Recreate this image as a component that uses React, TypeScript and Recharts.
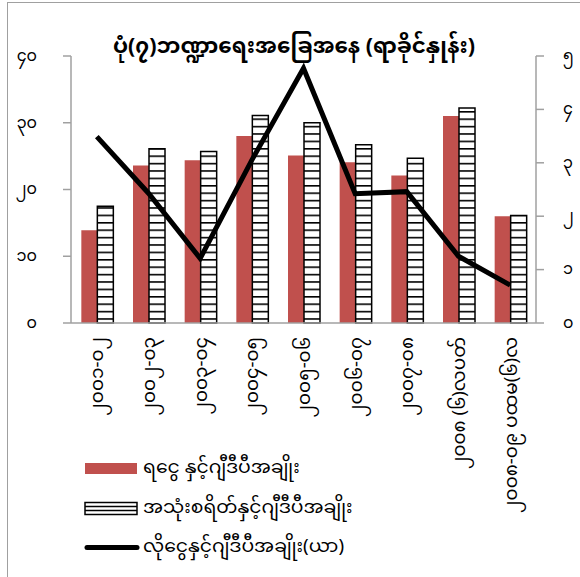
import { ComposedChart, Bar, Line, XAxis, YAxis, Legend } from "recharts"

const FONT = "'Noto Sans Myanmar', 'Noto Sans', sans-serif"

// fiscal years on the category axis
const categories = [
    '၂၀၀၁-၀၂',
    '၂၀၀၂-၀၃',
    '၂၀၀၃-၀၄',
    '၂၀၀၄-၀၅',
    '၂၀၀၅-၀၆',
    '၂၀၀၆-၀၇',
    '၂၀၀၇-၀၈',
    '၂၀၀၈ (၆)လပတ်',
    '၂၀၀၈-၀၉ ပထမ(၆)လ',
]
const revenue = [13.9, 23.6, 24.4, 28.0, 25.1, 24.1, 22.1, 31.0, 16.0]
const expenditure = [17.5, 26.1, 25.7, 31.1, 30.0, 26.7, 24.7, 32.2, 16.1]
const deficit = [3.49, 2.43, 1.21, 3.05, 4.77, 2.42, 2.46, 1.25, 0.71]

const leftTicks = [0, 10, 20, 30, 40]
const leftTickLabels = ['၀', '၁၀', '၂၀', '၃၀', '၄၀']
const rightTicks = [0, 1, 2, 3, 4, 5]
const rightTickLabels = ['၀', '၁', '၂', '၃', '၄', '၅']
const edgeTicks = [0, 1, 2, 3, 4, 5, 6, 7, 8, 9]

const seriesNames = [
    'ရငွေ နှင့်ဂျီဒီပီအချိုး',
    'အသုံးစရိတ်နှင့်ဂျီဒီပီအချိုး',
    'လိုငွေနှင့်ဂျီဒီပီအချိုး(ယာ)',
]
const title = 'ပုံ(၇)ဘဏ္ဍာရေးအခြေအနေ (ရာခိုင်နှုန်း)'

const AXIS = '#a0a0a0'

const XTick = (props: any) => {
    const { x, y, payload } = props
    const ty = y + 14
    return (
        <text x={x} y={ty} transform={`rotate(-90 ${x} ${ty})`} textAnchor="end" dy="0.35em"
            fontSize={18.5} fill="#000" fontFamily={FONT}>
            {payload.value}
        </text>
    )
}

const LeftTick = (props: any) => {
    const { x, y, payload } = props
    const i = leftTicks.indexOf(payload.value)
    return (
        <text x={x} y={y} dy="0.3em" textAnchor="end" fontSize={16} fill="#000" fontFamily={FONT}>
            {leftTickLabels[i]}
        </text>
    )
}

const RightTick = (props: any) => {
    const { x, y, payload } = props
    const i = rightTicks.indexOf(payload.value)
    return (
        <text x={x} y={y} dy="0.3em" textAnchor="start" fontSize={16} fill="#000" fontFamily={FONT}>
            {rightTickLabels[i]}
        </text>
    )
}

const swatch = (i: number) => {
    if (i === 0) return <rect x={1} y={2} width={52} height={11} fill="#C0504D" />
    if (i === 1) return (
        <g>
            <rect x={1} y={1.5} width={52} height={12} fill="#fff" stroke="#000" strokeWidth={1.5} />
            <line x1={1} x2={53} y1={5.5} y2={5.5} stroke="#000" strokeWidth={1.5} />
            <line x1={1} x2={53} y1={9.5} y2={9.5} stroke="#000" strokeWidth={1.5} />
        </g>
    )
    return <line x1={3} x2={53} y1={7.5} y2={7.5} stroke="#000" strokeWidth={5} strokeLinecap="round" />
}

const LegendContent = () => (
    <div style={{ fontFamily: FONT }}>
        {seriesNames.map((n, i) => (
            <div key={n} style={{ display: 'flex', alignItems: 'center', height: 39.5 }}>
                <svg width={56} height={15} style={{ marginRight: 3 }}>{swatch(i)}</svg>
                <span style={{ fontSize: 18.8, color: '#000', whiteSpace: 'nowrap' }}>{n}</span>
            </div>
        ))}
    </div>
)

export default function App() {
    const data = categories.map((c, i) => ({
        name: c,
        revenue: revenue[i],
        expenditure: expenditure[i],
        deficit: deficit[i],
    }))

    return (
        <div style={{ position: 'absolute', left: 0, top: 0, width: 580, height: 577, background: '#fff', overflow: 'hidden', fontFamily: FONT }}>
            <div style={{ position: 'absolute', left: 7, top: 2, width: 640, height: 640, border: `1.5px solid ${AXIS}` }} />
            <div style={{ position: 'absolute', left: 8, top: 25, width: 572, textAlign: 'center', fontSize: 21.5, fontWeight: 'bold', color: '#000', whiteSpace: 'nowrap' }}>
                {title}
            </div>
            <div style={{ position: 'absolute', left: 0, top: 0 }}>
                <ComposedChart width={580} height={577} data={data}
                    margin={{ top: 56, right: 0, bottom: 0, left: 8 }}
                    barCategoryGap="20%" barGap={0}>
                    <defs>
                        <pattern id="hatch" patternUnits="userSpaceOnUse" width={6} height={7.4}>
                            <rect width={6} height={7.4} fill="#fff" />
                            <rect width={6} height={1.6} fill="#000" />
                        </pattern>
                    </defs>
                    <XAxis xAxisId="edge" type="number" domain={[0, 9]} ticks={edgeTicks} tick={false}
                        height={0} axisLine={false} tickSize={7} stroke={AXIS} strokeWidth={1.5} />
                    <XAxis xAxisId="cat" dataKey="name" height={254} interval={0} tickLine={false}
                        tickSize={0} tickMargin={0} axisLine={{ stroke: AXIS, strokeWidth: 1.5 }} tick={<XTick />} />
                    <YAxis yAxisId="left" domain={[0, 40]} ticks={leftTicks} width={63} tickSize={8} tickMargin={26}
                        stroke={AXIS} strokeWidth={1.5} tick={<LeftTick />} />
                    <YAxis yAxisId="right" orientation="right" domain={[0, 5]} ticks={rightTicks} width={44}
                        tickSize={8} tickMargin={19} stroke={AXIS} strokeWidth={1.5} tick={<RightTick />} />
                    <Bar xAxisId="cat" yAxisId="left" dataKey="revenue" name={seriesNames[0]} fill="#C0504D" isAnimationActive={false} />
                    <Bar xAxisId="cat" yAxisId="left" dataKey="expenditure" name={seriesNames[1]} fill="url(#hatch)"
                        stroke="#000" strokeWidth={1.5} isAnimationActive={false} />
                    <Line xAxisId="cat" yAxisId="right" dataKey="deficit" name={seriesNames[2]} type="linear"
                        stroke="#000" strokeWidth={5} dot={false} activeDot={false} isAnimationActive={false} />
                    <Legend layout="vertical" align="center" verticalAlign="middle" content={<LegendContent />}
                        wrapperStyle={{ position: 'absolute', left: 84, top: 449, width: 'auto' }} />
                </ComposedChart>
            </div>
        </div>
    )
}
